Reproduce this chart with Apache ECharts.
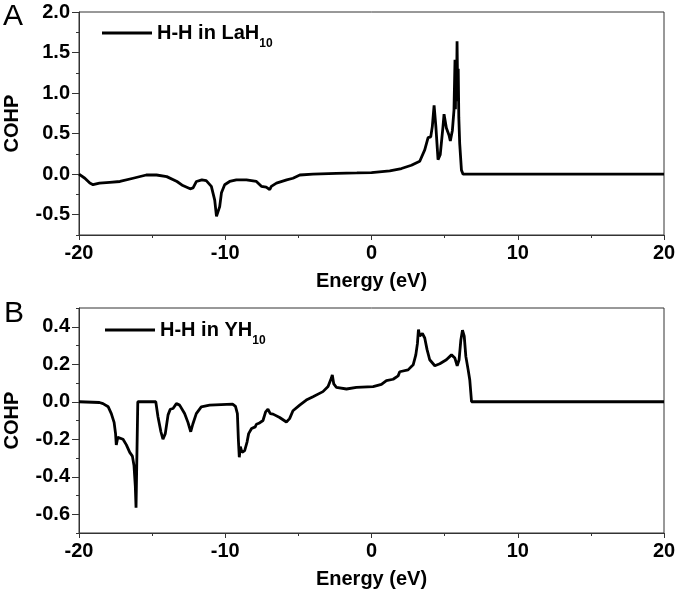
<!DOCTYPE html>
<html>
<head>
<meta charset="utf-8">
<script src="https://cdn.jsdelivr.net/npm/echarts@6/dist/echarts.min.js"></script>
<style>html,body{margin:0;padding:0;background:#fff}#c{width:677px;height:589px}</style>
</head>
<body>
<div id="c"></div>
<script>
// Panel A: H-H in LaH10
var laEnergy = [-20,-19.6,-19.26,-19.04,-18.6,-17.9,-17.2,-16.3,-15.4,-14.7,-14.0,-13.3,-12.9,-12.4,-12.2,-11.97,-11.6,-11.3,-10.95,-10.72,-10.6,-10.5,-10.38,-10.26,-10.04,-9.7,-9.24,-8.55,-7.87,-7.53,-7.2,-6.96,-6.85,-6.5,-5.8,-5.37,-4.9,-4.0,-2.4,-1.0,0,1.25,2.05,2.73,3.3,3.64,3.87,4.05,4.16,4.28,4.4,4.55,4.7,4.89,4.96,5.12,5.3,5.39,5.53,5.64,5.71,5.74,5.77,5.81,5.85,5.89,5.93,5.97,6.03,6.15,6.26,20];
var laCOHP = [0.0,-0.05,-0.11,-0.13,-0.11,-0.10,-0.09,-0.05,-0.01,-0.01,-0.03,-0.09,-0.14,-0.18,-0.17,-0.09,-0.07,-0.08,-0.15,-0.32,-0.52,-0.54,-0.40,-0.23,-0.13,-0.09,-0.07,-0.07,-0.09,-0.15,-0.16,-0.19,-0.15,-0.11,-0.07,-0.05,-0.01,0.0,0.01,0.015,0.02,0.04,0.07,0.11,0.16,0.30,0.45,0.46,0.59,0.85,0.59,0.18,0.24,0.59,0.74,0.57,0.48,0.41,0.54,0.79,1.41,0.8,1.35,0.9,1.64,1.05,1.3,0.7,0.38,0.05,0.0,0.0];
// Panel B: H-H in YH10
var yEnergy = [-20,-18.6,-18.36,-18.0,-17.79,-17.6,-17.5,-17.45,-17.35,-17.22,-16.99,-16.76,-16.53,-16.35,-16.24,-16.15,-16.1,-15.98,-14.75,-14.6,-14.4,-14.26,-14.1,-13.91,-13.76,-13.57,-13.34,-13.12,-12.78,-12.55,-12.43,-12.36,-12.22,-11.98,-11.64,-11.07,-9.5,-9.3,-9.17,-9.1,-9.04,-8.97,-8.85,-8.67,-8.51,-8.4,-8.2,-7.95,-7.87,-7.7,-7.6,-7.42,-7.24,-7.08,-6.92,-6.73,-6.28,-5.82,-5.6,-5.37,-4.91,-4.46,-4.0,-3.32,-2.97,-2.75,-2.68,-2.58,-2.4,-1.71,-1.03,0.11,0.68,1.02,1.48,1.82,1.93,2.05,2.5,2.85,3.03,3.14,3.21,3.3,3.48,3.64,3.8,3.98,4.33,4.67,5.12,5.47,5.58,5.7,5.86,5.99,6.11,6.22,6.34,6.45,6.61,6.72,6.84,20];
var yCOHP = [0,-0.004,-0.01,-0.027,-0.063,-0.11,-0.17,-0.23,-0.19,-0.18,-0.20,-0.23,-0.27,-0.29,-0.34,-0.45,-0.565,0.0,0.0,-0.08,-0.16,-0.20,-0.17,-0.07,-0.04,-0.036,-0.01,-0.018,-0.063,-0.11,-0.115,-0.16,-0.12,-0.063,-0.027,-0.018,-0.013,-0.025,-0.063,-0.206,-0.296,-0.24,-0.27,-0.26,-0.215,-0.17,-0.143,-0.134,-0.12,-0.115,-0.105,-0.10,-0.054,-0.04,-0.063,-0.066,-0.084,-0.108,-0.09,-0.048,-0.018,0.009,0.027,0.054,0.081,0.125,0.143,0.095,0.077,0.068,0.077,0.081,0.093,0.113,0.12,0.138,0.16,0.152,0.17,0.197,0.25,0.31,0.385,0.35,0.364,0.34,0.278,0.224,0.192,0.203,0.224,0.25,0.256,0.233,0.192,0.224,0.33,0.382,0.35,0.242,0.17,0.116,0.0,0.0];

var xTicks = [-20,-10,0,10,20];
var laYLabels = [-0.5,0,0.5,1,1.5,2];
var yYLabels = [-0.6,-0.4,-0.2,0,0.2,0.4];
var legendA = 'H-H in LaH10';
var legendB = 'H-H in YH10';

function pairs(xs, ys){ return xs.map(function(x,i){ return [x, ys[i]]; }); }

var FONT = 'Liberation Sans, Arial, sans-serif';
var AX = '#333';

function xAxisCfg(gi){
  return {
    type:'value', gridIndex:gi, min:-20, max:20, interval:10,
    axisLine:{show:true, onZero:false, lineStyle:{color:AX, width:1}},
    axisTick:{show:true, length:5, lineStyle:{color:AX}},
    minorTick:{show:true, splitNumber:2, length:3, lineStyle:{color:AX}},
    splitLine:{show:false},
    axisLabel:{color:'#000', fontSize:20, fontWeight:'bold', fontFamily:FONT, margin:8,
      customValues:xTicks},
    name:'Energy (eV)', nameLocation:'middle', nameGap:36,
    nameTextStyle:{color:'#000', fontSize:20, fontWeight:'bold', fontFamily:FONT}
  };
}
function yMain(gi, mn, mx, step, labels){
  return {
    type:'value', gridIndex:gi, min:mn, max:mx, interval:step, position:'left',
    axisLine:{show:true, onZero:false, lineStyle:{color:AX, width:1}},
    axisTick:{show:true, length:3, lineStyle:{color:AX}},
    splitLine:{show:false},
    axisLabel:{color:'#000', fontSize:20, fontWeight:'bold', fontFamily:FONT, margin:9,
      customValues:labels, formatter:function(v){ return v.toFixed(1); }},
    name:'COHP', nameLocation:'middle', nameGap:57,
    nameTextStyle:{color:'#000', fontSize:20, fontWeight:'bold', fontFamily:FONT}
  };
}
function yMajor(gi, mn, mx, step, labels){
  return {
    type:'value', gridIndex:gi, min:mn, max:mx, interval:step, position:'left', offset:0,
    axisLine:{show:false, onZero:false}, splitLine:{show:false},
    axisTick:{show:true, length:7, customValues:labels, lineStyle:{color:AX}},
    axisLabel:{show:false}
  };
}

var chart = echarts.init(document.getElementById('c'), null, {renderer:'canvas'});
var richStyle = {
  a:{fontSize:20, fontWeight:'bold', fontFamily:FONT, color:'#000', lineHeight:34, verticalAlign:'middle'},
  s:{fontSize:12, fontWeight:'bold', fontFamily:FONT, color:'#000', lineHeight:12, verticalAlign:'bottom'}
};
function legendFmt(name){
  var base = name.replace(/10$/, '');
  return '{a|' + base + '}{s|10}';
}
chart.setOption({
  animation:false,
  backgroundColor:'#fff',
  grid:[
    {left:79, top:12, width:585, height:223, show:true, borderColor:AX, borderWidth:1, outerBoundsMode:'none', containLabel:false},
    {left:79, top:308, width:585, height:225, show:true, borderColor:AX, borderWidth:1, outerBoundsMode:'none', containLabel:false}
  ],
  xAxis:[xAxisCfg(0), xAxisCfg(1)],
  yAxis:[
    yMain(0, -0.75, 2, 0.25, laYLabels),
    yMajor(0, -0.75, 2, 0.25, laYLabels),
    yMain(1, -0.7, 0.5, 0.1, yYLabels),
    yMajor(1, -0.7, 0.5, 0.1, yYLabels)
  ],
  legend:[
    {data:[legendA], left:102, top:23, padding:0, icon:'rect', itemWidth:50, itemHeight:3,
     formatter:legendFmt, textStyle:{rich:richStyle}, selectedMode:false},
    {data:[legendB], left:105, top:320, padding:0, icon:'rect', itemWidth:50, itemHeight:3,
     formatter:legendFmt, textStyle:{rich:richStyle}, selectedMode:false}
  ],
  graphic:[
    {type:'text', left:3, top:2, style:{text:'A', fontSize:30, fontFamily:FONT, fill:'#000'}},
    {type:'text', left:4, top:299, style:{text:'B', fontSize:30, fontFamily:FONT, fill:'#000'}}
  ],
  series:[
    {name:legendA, type:'line', xAxisIndex:0, yAxisIndex:0, data:pairs(laEnergy, laCOHP),
     showSymbol:false, symbol:'none', lineStyle:{color:'#000', width:2.8}, itemStyle:{color:'#000'}},
    {name:legendB, type:'line', xAxisIndex:1, yAxisIndex:2, data:pairs(yEnergy, yCOHP),
     showSymbol:false, symbol:'none', lineStyle:{color:'#000', width:2.8}, itemStyle:{color:'#000'}}
  ]
});
</script>
</body>
</html>
